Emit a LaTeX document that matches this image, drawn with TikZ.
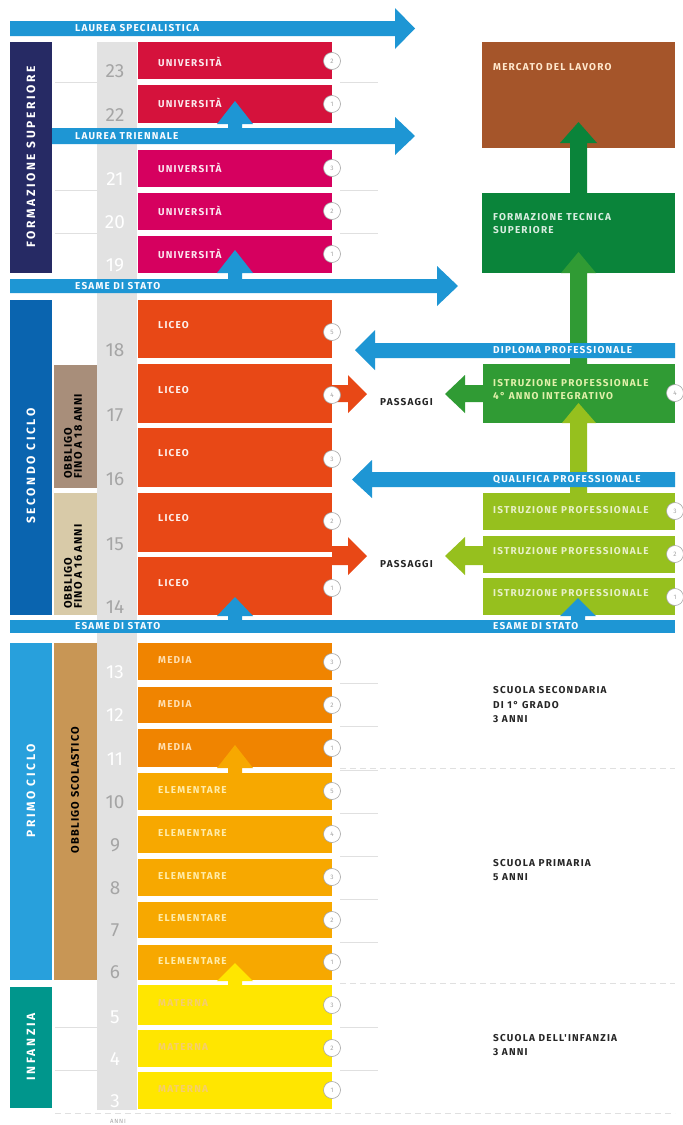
\documentclass[tikz,border=0pt]{standalone}
\usepackage{fontspec}
\setmainfont{Fira Sans}
\newfontfamily\labfont{Fira Sans}[LetterSpace=12]
\newfontfamily\obfont{Fira Sans}[LetterSpace=10]
\newfontfamily\vfont{Fira Sans}[LetterSpace=22]
\definecolor{cblue}{RGB}{30,150,212}
\definecolor{cnavy}{RGB}{38,42,100}
\definecolor{csec}{RGB}{10,100,175}
\definecolor{cprim}{RGB}{40,160,220}
\definecolor{cinf}{RGB}{0,150,140}
\definecolor{cred}{RGB}{213,18,60}
\definecolor{cpink}{RGB}{214,0,95}
\definecolor{cliceo}{RGB}{232,72,22}
\definecolor{cmedia}{RGB}{240,132,0}
\definecolor{celem}{RGB}{247,168,0}
\definecolor{cmat}{RGB}{255,230,0}
\definecolor{cbrown}{RGB}{165,85,42}
\definecolor{cfts}{RGB}{10,132,58}
\definecolor{cquattro}{RGB}{48,155,52}
\definecolor{clgreen}{RGB}{150,192,30}
\definecolor{ctaupe}{RGB}{168,142,122}
\definecolor{cbeige}{RGB}{216,202,168}
\definecolor{ctan}{RGB}{200,150,85}
\definecolor{ccol}{RGB}{226,226,226}
\definecolor{cgrey}{RGB}{165,165,165}
\definecolor{cpalemed}{RGB}{255,222,175}
\definecolor{cpaleel}{RGB}{255,236,170}
\definecolor{cpalemat}{RGB}{245,205,110}
\definecolor{cpalegr}{RGB}{225,240,170}
\definecolor{cpalelg}{RGB}{232,240,200}
\definecolor{ccream}{RGB}{255,232,205}
\definecolor{cbartext}{RGB}{250,252,255}
\newcommand\edurow[9]{%
  \fill[#2] (138,#3) rectangle (332,#4);
  \node[boxlab,text=#9] (#1) at (158,#5) {#6};
  \node[numc] (#1c) at (332,#7) {#8};
}
\newcommand\uptri[4]{%
  \fill[#4] (#1-18,#3) -- (#1,#2) -- (#1+18,#3) -- (#1+7,#3) -- (#1+7,#3+6) -- (#1-7,#3+6) -- (#1-7,#3) -- cycle;
}
\begin{document}
\begin{tikzpicture}[x=1pt,y=-1pt,
  boxlab/.style={anchor=west,inner sep=0pt,text=white,align=left,font=\labfont\bfseries\fontsize{10}{13}\selectfont},
  barlab/.style={anchor=west,inner sep=0pt,text=cbartext,font=\labfont\bfseries\fontsize{10}{13}\selectfont},
  vlab/.style={rotate=90,inner sep=0pt,text=white,font=\vfont\bfseries\fontsize{12}{13}\selectfont},
  oblab/.style={rotate=90,inner sep=0pt,text=black,align=left,font=\obfont\bfseries\fontsize{11}{10}\selectfont},
  agelab/.style={anchor=base,inner sep=0pt,font=\fontsize{19}{19}\selectfont},
  numc/.style={circle,fill=white,draw=cgrey,line width=0.6pt,minimum size=17pt,inner sep=0pt,text=cgrey,font=\fontsize{6.5}{7}\selectfont},
  blk/.style={anchor=west,inner sep=0pt,text=black!85,align=left,font=\labfont\bfseries\fontsize{10}{14.5}\selectfont},
  faint/.style={draw=black!12,line width=0.5pt},
  fdash/.style={draw=black!12,line width=0.6pt,dash pattern=on 6pt off 4pt}]
\fill[white] (0,0) rectangle (683,1125);
\useasboundingbox (0,0) rectangle (683,1125);

% grey age column
\fill[ccol] (97,42) rectangle (137,1110);

% faint separators
\foreach \yy in {82,190,233}{\draw[faint] (55,\yy) -- (97,\yy); \draw[faint] (340,\yy) -- (378,\yy);}
\foreach \yy in {683,726,770,813,856,899,942}{\draw[faint] (340,\yy) -- (378,\yy);}
\foreach \yy in {1027,1070}{\draw[faint] (55,\yy) -- (97,\yy); \draw[faint] (340,\yy) -- (378,\yy);}
\draw[fdash] (340,768) -- (675,768);
\draw[fdash] (340,983) -- (675,983);
\draw[fdash] (55,1113) -- (675,1113);

% vertical section bars
\fill[cnavy] (10,42) rectangle (52,273);
\node[vlab] (fsup) at (31,157) {FORMAZIONE SUPERIORE};
\fill[csec] (10,300) rectangle (52,615);
\node[vlab] (sec) at (31,466) {SECONDO CICLO};
\fill[cprim] (10,643) rectangle (52,980);
\node[vlab] (prim) at (31,791) {PRIMO CICLO};
\fill[cinf] (10,987) rectangle (52,1108);
\node[vlab] (inf) at (31,1047) {INFANZIA};

\fill[ctaupe] (54,365) rectangle (97,488);
\node[oblab,anchor=west] (ob18) at (73,479) {OBBLIGO\\FINO A 18 ANNI};
\fill[cbeige] (54,493) rectangle (97,615);
\node[oblab,anchor=west] (ob16) at (73,609) {OBBLIGO\\FINO A 16 ANNI};
\fill[ctan] (54,643) rectangle (97,980);
\node[oblab] (obsc) at (75,790) {OBBLIGO SCOLASTICO};

% passaggi arrows
\fill[cliceo] (332,385) -- (348,385) -- (348,375) -- (367,394) -- (348,413) -- (348,402) -- (332,402) -- cycle;
\fill[cliceo] (332,546) -- (348,546) -- (348,537) -- (367,556) -- (348,575) -- (348,565) -- (332,565) -- cycle;
\fill[cquattro] (483,385) -- (465,385) -- (465,375) -- (445,394) -- (465,413) -- (465,402) -- (483,402) -- cycle;
\fill[clgreen] (483,546) -- (465,546) -- (465,537) -- (445,556) -- (465,575) -- (465,565) -- (483,565) -- cycle;
\node[blk] (pass1) at (380,402) {PASSAGGI};
\node[blk] (pass2) at (380,564) {PASSAGGI};

% rows
\edurow{u23}{cred}{42}{79}{62}{UNIVERSITÀ}{61}{2}{white!90!cred}
\edurow{u22}{cred}{85}{123}{103}{UNIVERSITÀ}{104}{1}{white!90!cred}
\edurow{u21}{cpink}{150}{187}{168}{UNIVERSITÀ}{168}{3}{white!90!cpink}
\edurow{u20}{cpink}{193}{230}{211}{UNIVERSITÀ}{211}{2}{white!90!cpink}
\edurow{u19}{cpink}{236}{273}{254}{UNIVERSITÀ}{254}{1}{white!90!cpink}
\edurow{l18}{cliceo}{300}{358}{325}{LICEO}{332}{5}{white!92!cliceo}
\edurow{l17}{cliceo}{364}{423}{390}{LICEO}{395}{4}{white!92!cliceo}
\edurow{l16}{cliceo}{428}{487}{453}{LICEO}{459}{3}{white!92!cliceo}
\edurow{l15}{cliceo}{493}{552}{518}{LICEO}{521}{2}{white!92!cliceo}
\edurow{l14}{cliceo}{557}{615}{583}{LICEO}{588}{1}{white!92!cliceo}
\edurow{m13}{cmedia}{643}{680}{660}{MEDIA}{662}{3}{cpalemed}
\edurow{m12}{cmedia}{687}{723}{704}{MEDIA}{705}{2}{cpalemed}
\edurow{m11}{cmedia}{729}{767}{747}{MEDIA}{748}{1}{cpalemed}
\edurow{e10}{celem}{773}{810}{790}{ELEMENTARE}{791}{5}{cpaleel}
\edurow{e9}{celem}{816}{853}{833}{ELEMENTARE}{834}{4}{cpaleel}
\edurow{e8}{celem}{859}{896}{876}{ELEMENTARE}{877}{3}{cpaleel}
\edurow{e7}{celem}{902}{938}{918}{ELEMENTARE}{920}{2}{cpaleel}
\edurow{e6}{celem}{945}{980}{961}{ELEMENTARE}{962}{1}{cpaleel}
\edurow{ma5}{cmat}{985}{1025}{1003}{MATERNA}{1005}{3}{cpalemat}
\edurow{ma4}{cmat}{1030}{1067}{1047}{MATERNA}{1048}{2}{cpalemat}
\edurow{ma3}{cmat}{1072}{1109}{1089}{MATERNA}{1090}{1}{cpalemat}

% ages
\foreach \a/\yy/\cc in {23/77/cgrey,22/121/cgrey,21/185/white,20/228/white,19/271/white,
  18/356/cgrey,17/421/cgrey,16/485/cgrey,15/550/cgrey,14/613/cgrey,
  13/678/white,12/721/white,11/765/white,10/808/cgrey,9/851/cgrey,8/894/cgrey,7/936/cgrey,6/978/cgrey,
  5/1023/white,4/1065/white,3/1107/white}{
  \node[agelab,text=\cc] (age\a) at (115,\yy) {\a};
}
\node[inner sep=0pt,text=cgrey,font=\labfont\fontsize{6}{6}\selectfont] (anni) at (118,1121) {ANNI};

% up triangles
\uptri{235}{101}{124}{cblue}
\uptri{235}{250}{273}{cblue}
\uptri{235}{597}{616}{cblue}
\uptri{235}{745}{768}{celem}
\uptri{235}{963}{981}{cmat}

% right boxes
\fill[cbrown] (482,42) rectangle (675,148);
\node[boxlab,text=ccream] (merc) at (493,67) {MERCATO DEL LAVORO};
\fill[cfts] (482,193) rectangle (675,273);
\node[boxlab,text=white!85!cfts] (fts) at (493,224) {FORMAZIONE TECNICA\\SUPERIORE};
\fill[cfts] (570,193) -- (570,143) -- (560,143) -- (578.5,122) -- (597,143) -- (587,143) -- (587,193) -- cycle;
\fill[cquattro] (483,364) rectangle (675,423);
\node[boxlab,text=cpalegr] (ip4) at (493,390) {ISTRUZIONE PROFESSIONALE\\4° ANNO INTEGRATIVO};
\fill[cquattro] (570,364) -- (570,273) -- (561,273) -- (578.5,252) -- (596,273) -- (587,273) -- (587,364) -- cycle;
\node[numc] (ip4c) at (675,393) {4};
\fill[clgreen] (483,493) rectangle (675,530);
\node[boxlab,text=cpalelg] (ip3) at (493,510) {ISTRUZIONE PROFESSIONALE};
\node[numc] (ip3c) at (675,511) {3};
\fill[clgreen] (483,536) rectangle (675,573);
\node[boxlab,text=cpalelg] (ip2) at (493,551) {ISTRUZIONE PROFESSIONALE};
\node[numc] (ip2c) at (675,554) {2};
\fill[clgreen] (483,578) rectangle (675,615);
\node[boxlab,text=cpalelg] (ip1) at (493,593) {ISTRUZIONE PROFESSIONALE};
\node[numc] (ip1c) at (675,597) {1};
\fill[clgreen] (570,493) -- (570,423) -- (562,423) -- (578.5,403) -- (596,423) -- (587,423) -- (587,493) -- cycle;
\uptri{578}{598}{616}{cblue}

% blue bars
\fill[cblue] (10,21) -- (395,21) -- (395,8) -- (415,28.5) -- (395,49) -- (395,36) -- (10,36) -- cycle;
\node[barlab] (lspec) at (75,28.5) {LAUREA SPECIALISTICA};
\fill[cblue] (52,128) -- (395,128) -- (395,117) -- (415,136) -- (395,155) -- (395,144) -- (52,144) -- cycle;
\node[barlab] (ltri) at (75,136) {LAUREA TRIENNALE};
\fill[cblue] (10,279) -- (437,279) -- (437,266) -- (458,286) -- (437,306) -- (437,293) -- (10,293) -- cycle;
\node[barlab] (es1) at (75,286) {ESAME DI STATO};
\fill[cblue] (675,343) -- (375,343) -- (375,330) -- (355,350) -- (375,370) -- (375,358) -- (675,358) -- cycle;
\node[barlab] (dipl) at (493,350.5) {DIPLOMA PROFESSIONALE};
\fill[cblue] (675,472) -- (372,472) -- (372,460) -- (352,479.5) -- (372,498) -- (372,487) -- (675,487) -- cycle;
\node[barlab] (qual) at (493,479.5) {QUALIFICA PROFESSIONALE};
\fill[cblue] (10,620) rectangle (675,633);
\node[barlab] (es2) at (75,626.5) {ESAME DI STATO};
\node[barlab] (es3) at (493,626.5) {ESAME DI STATO};

% right descriptions
\node[blk] (ssec) at (493,705) {SCUOLA SECONDARIA\\DI 1° GRADO\\3 ANNI};
\node[blk] (sprim) at (493,870) {SCUOLA PRIMARIA\\5 ANNI};
\node[blk] (sinf) at (493,1045) {SCUOLA DELL'INFANZIA\\3 ANNI};
\end{tikzpicture}
\end{document}
